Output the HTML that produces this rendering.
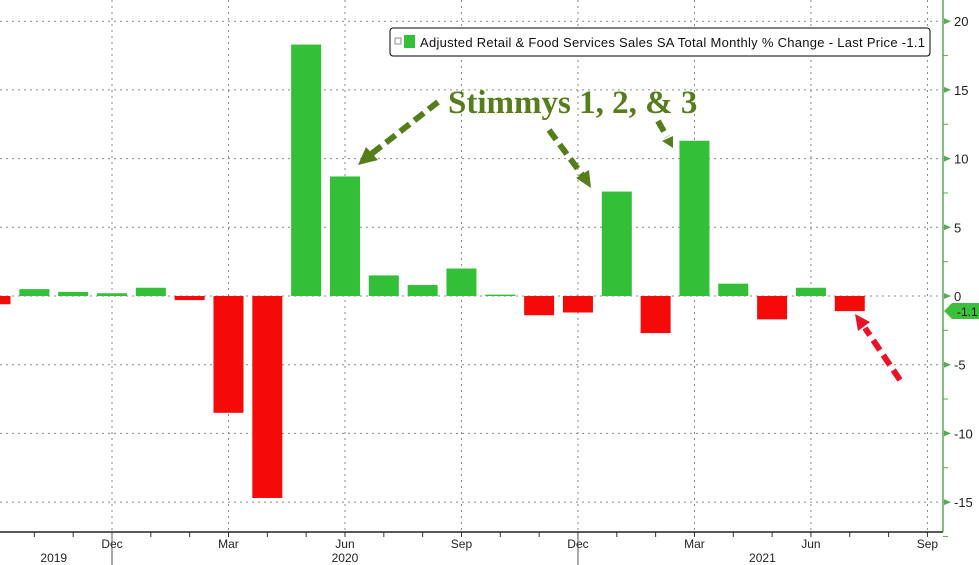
<!DOCTYPE html>
<html><head><meta charset="utf-8">
<style>
html,body{margin:0;padding:0;background:#fff;}
svg{display:block;font-family:"Liberation Sans",sans-serif;}
</style></head>
<body>
<svg id="chart" width="979" height="565" viewBox="0 0 979 565">
<g id="grid"></g>
<g id="bars"></g>
<g id="axes"></g>
<g>
 <rect x="390" y="28" width="540" height="28" rx="3" fill="#fff" stroke="#000" stroke-width="1"/>
 <rect x="395" y="38" width="6" height="6" fill="#fff" stroke="#777" stroke-width="0.8"/>
 <rect x="404" y="35" width="11" height="13" fill="#33c038"/>
 <text x="420" y="47" font-size="13" fill="#111" textLength="505" lengthAdjust="spacing">Adjusted Retail &amp; Food Services Sales SA Total Monthly % Change - Last Price -1.1</text>
</g>
<text x="448" y="113" font-family="Liberation Serif,serif" font-weight="bold" font-size="33" fill="#567d1c">Stimmys 1, 2, &amp; 3</text>
<g stroke-width="6" stroke-dasharray="12,6" fill="none">
 <line x1="438" y1="102" x2="370" y2="155" stroke="#567d1c"/>
 <polygon points="358,165 366,147 378,160" fill="#567d1c" stroke="none"/>
 <line x1="549" y1="130" x2="583" y2="176" stroke="#567d1c"/>
 <polygon points="591,188 576,178 589,170" fill="#567d1c" stroke="none"/>
 <line x1="658" y1="121" x2="667" y2="137" stroke="#567d1c"/>
 <polygon points="673,148 662,141 673,136" fill="#567d1c" stroke="none"/>
 <line x1="900" y1="380" x2="865" y2="328" stroke="#e8142a"/>
 <polygon points="855,314 870,322 858,331" fill="#e8142a" stroke="none"/>
</g>
<g>
 <polygon points="944,311 952,303 979,303 979,319 952,319" fill="#3cbf3a"/>
 <text x="957" y="316" font-size="12" fill="#111">-1.1</text>
</g>
</svg>
<script>
const months = ["2019-09","2019-10","2019-11","2019-12","2020-01","2020-02","2020-03","2020-04","2020-05","2020-06","2020-07","2020-08","2020-09","2020-10","2020-11","2020-12","2021-01","2021-02","2021-03","2021-04","2021-05","2021-06","2021-07"];
const values = [-0.6,0.5,0.3,0.2,0.6,-0.3,-8.5,-14.7,18.3,8.7,1.5,0.8,2.0,0.1,-1.4,-1.2,7.6,-2.7,11.3,0.9,-1.7,0.6,-1.1];
const yTicks = [20,15,10,5,0,-5,-10,-15];
const xTickLabels = ["Dec","Mar","Jun","Sep","Dec","Mar","Jun","Sep"];
const xTickIdx = [3,6,9,12,15,18,21,24];
const yearLabels = ["2019","2020","2021"];
const yearIdx = [1.5,9,19.75];

const NS="http://www.w3.org/2000/svg";
const x0=112, step=38.83, xIdx0=3;
function xs(i){return x0+(i-xIdx0)*step;}
function ys(v){return 296-v*13.74;}
const plotL=0, plotR=943, plotB=532;
function mk(tag,attrs,parent){const e=document.createElementNS(NS,tag);for(const k in attrs)e.setAttribute(k,attrs[k]);parent.appendChild(e);return e;}
const grid=document.getElementById('grid'), bars=document.getElementById('bars'), axes=document.getElementById('axes');

yTicks.forEach(t=>{
  const l=mk('line',{x1:plotL,x2:plotR,y1:ys(t),y2:ys(t),stroke:'#888','stroke-width':1,'stroke-dasharray':'2,4'},grid);
  
  
  const tr=mk('polygon',{points:`${plotR+1},${ys(t)-3} ${plotR+8},${ys(t)} ${plotR+1},${ys(t)+3}`,fill:'#5aaa5a'},axes);
  
  
  const tx=mk('text',{x:plotR+11,y:ys(t)+5,'font-size':13,fill:'#222'},axes);
  tx.textContent=t;
  
  
  const mn=mk('line',{x1:plotR,x2:plotR+5,y1:ys(t-2.5),y2:ys(t-2.5),stroke:'#5aaa5a'},axes);
  
  
});
xTickIdx.forEach((m,k)=>{
  const x=xs(m);
  const l=mk('line',{x1:x,x2:x,y1:0,y2:plotB,stroke:'#888','stroke-width':1,'stroke-dasharray':'2,4'},grid);
  
  
  const tx=mk('text',{x:x,y:548,'font-size':12,fill:'#222','text-anchor':'middle'},axes);
  tx.textContent=xTickLabels[k];
  
  
});
for(let m=1;m<=24;m++){
  const t=mk('line',{x1:xs(m),x2:xs(m),y1:plotB,y2:plotB+5,stroke:'#333'},axes);
  
  
}
[3,15].forEach(m=>{
  const t=mk('line',{x1:xs(m),x2:xs(m),y1:plotB,y2:565,stroke:'#555'},axes);
  
  
});
yearLabels.forEach((y,k)=>{
  const tx=mk('text',{x:xs(yearIdx[k]),y:562,'font-size':12,fill:'#222','text-anchor':'middle'},axes);
  tx.textContent=y;
  
  
});
const xa=mk('line',{x1:0,x2:plotR,y1:plotB,y2:plotB,stroke:'#222','stroke-width':1.5},axes);


const ya=mk('line',{x1:plotR,x2:plotR,y1:0,y2:plotB,stroke:'#5aaa5a','stroke-width':1.5},axes);



values.forEach((v,i)=>{
  const x=xs(i)-15, y=Math.min(ys(v),ys(0)), h=Math.abs(ys(v)-ys(0));
  const r=mk('rect',{x:x,y:y,width:30,height:Math.max(h,1),fill:v>=0?'#33c038':'#f50a0a'},bars);
  
  
});
</script>
</body></html>
